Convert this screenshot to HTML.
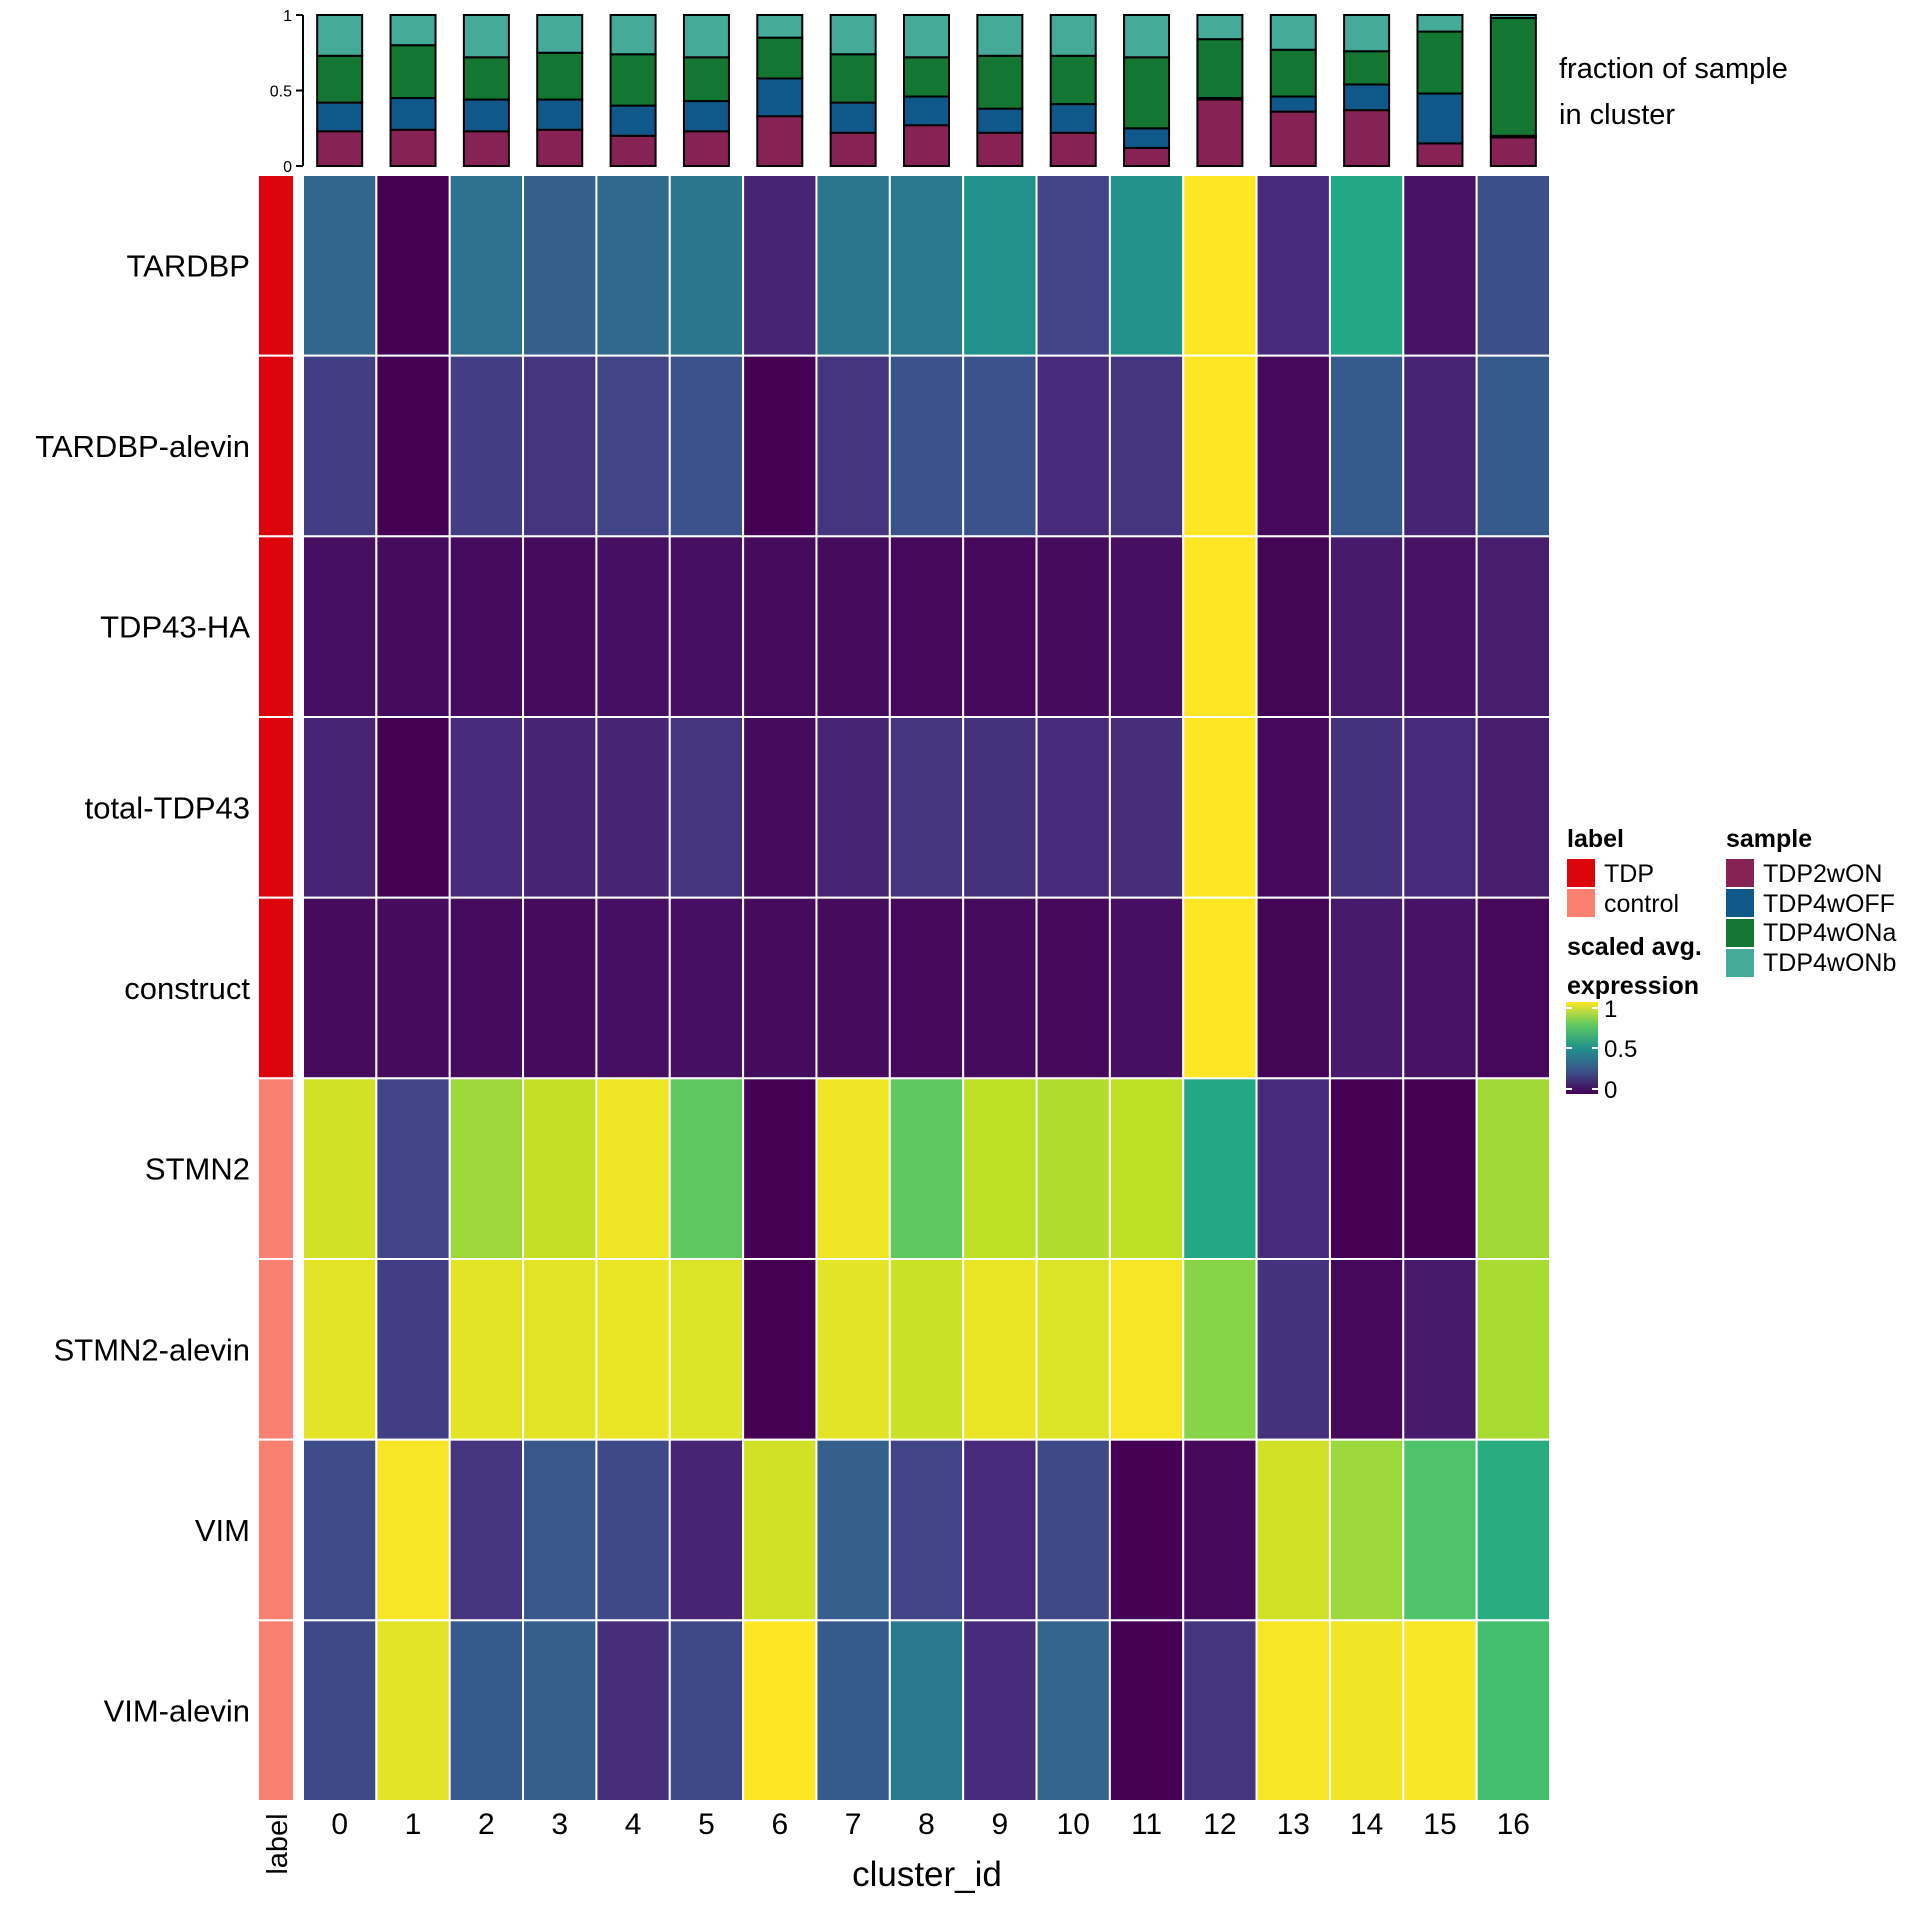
<!DOCTYPE html>
<html><head><meta charset="utf-8"><style>
html,body{margin:0;padding:0;background:#fff;}
svg{display:block;font-family:"Liberation Sans",Arial,sans-serif;}
</style></head><body>
<svg id="chart" width="1920" height="1920" viewBox="0 0 1920 1920" xmlns="http://www.w3.org/2000/svg"></svg>
<script>
const genes = ["TARDBP","TARDBP-alevin","TDP43-HA","total-TDP43","construct","STMN2","STMN2-alevin","VIM","VIM-alevin"];
const geneLabels = ["TDP","TDP","TDP","TDP","TDP","control","control","control","control"];
const clusters = ["0","1","2","3","4","5","6","7","8","9","10","11","12","13","14","15","16"];
const expr_TARDBP = [0.33,0.0,0.37,0.3,0.34,0.39,0.1,0.39,0.4,0.5,0.2,0.51,1,0.12,0.6,0.05,0.24];
const expr_TARDBP_alevin = [0.18,0.0,0.18,0.15,0.2,0.25,0.0,0.15,0.26,0.25,0.12,0.15,1,0.02,0.28,0.1,0.28];
const expr_TDP43_HA = [0.04,0.03,0.03,0.03,0.04,0.04,0.03,0.03,0.02,0.02,0.03,0.04,1,0.01,0.07,0.05,0.08];
const expr_total_TDP43 = [0.1,0.0,0.12,0.1,0.1,0.15,0.03,0.1,0.15,0.14,0.12,0.13,1,0.02,0.14,0.12,0.08];
const expr_construct = [0.03,0.03,0.03,0.03,0.04,0.04,0.03,0.03,0.02,0.03,0.02,0.04,1,0.01,0.07,0.05,0.02];
const expr_STMN2 = [0.93,0.2,0.85,0.91,0.98,0.75,0.0,0.98,0.75,0.9,0.88,0.9,0.6,0.12,0.0,0.0,0.86];
const expr_STMN2_alevin = [0.96,0.18,0.96,0.96,0.97,0.95,0.0,0.96,0.92,0.97,0.95,0.99,0.82,0.14,0.02,0.07,0.87];
const expr_VIM = [0.23,0.99,0.15,0.27,0.22,0.1,0.93,0.3,0.2,0.12,0.22,0.0,0.02,0.93,0.85,0.72,0.62];
const expr_VIM_alevin = [0.22,0.96,0.28,0.3,0.13,0.22,1,0.28,0.4,0.12,0.32,0.0,0.15,0.99,0.98,0.99,0.7];
const exprRows = [expr_TARDBP,expr_TARDBP_alevin,expr_TDP43_HA,expr_total_TDP43,expr_construct,expr_STMN2,expr_STMN2_alevin,expr_VIM,expr_VIM_alevin];
const samples = ["TDP2wON","TDP4wOFF","TDP4wONa","TDP4wONb"];
const frac_TDP2wON  = [0.23,0.24,0.23,0.24,0.20,0.23,0.33,0.22,0.27,0.22,0.22,0.12,0.44,0.36,0.37,0.15,0.19];
const frac_TDP4wOFF = [0.19,0.21,0.21,0.20,0.20,0.20,0.25,0.20,0.19,0.16,0.19,0.13,0.01,0.10,0.17,0.33,0.01];
const frac_TDP4wONa = [0.31,0.35,0.28,0.31,0.34,0.29,0.27,0.32,0.26,0.35,0.32,0.47,0.39,0.31,0.22,0.41,0.78];
const frac_TDP4wONb = [0.27,0.20,0.28,0.25,0.26,0.28,0.15,0.26,0.28,0.27,0.27,0.28,0.16,0.23,0.24,0.11,0.02];
const fracSeries = [frac_TDP2wON,frac_TDP4wOFF,frac_TDP4wONa,frac_TDP4wONb];
const fracTicks = [0,0.5,1];
const colorTicks = [0,0.5,1];

const sampleColors = ["#872254","#11588a","#137733","#46aa98"];
const labelColors = {TDP:"#dd050c",control:"#fa8072"};
const vir = ["#440154","#482475","#414487","#355f8d","#2a788e","#21918c","#22a884","#44bf70","#7ad151","#bddf26","#fde725"];
function hex(c){return [1,3,5].map(i=>parseInt(c.substr(i,2),16));}
function viridis(v){v=Math.max(0,Math.min(1,v));const p=v*10,i=Math.min(9,Math.floor(p)),f=p-i;const a=hex(vir[i]),b=hex(vir[i+1]);return "rgb("+a.map((x,k)=>Math.round(x+(b[k]-x)*f)).join(",")+")";}

const NS="http://www.w3.org/2000/svg";
const svg=document.getElementById("chart");
function el(tag,attrs,parent){const e=document.createElementNS(NS,tag);for(const k in attrs)e.setAttribute(k,attrs[k]);(parent||svg).appendChild(e);return e;}
function txt(s,attrs,parent){const e=el("text",attrs,parent);e.textContent=s;return e;}

const X0=303,X1=1550,Y0=175,Y1=1801;
const colW=(X1-X0)/clusters.length, rowH=(Y1-Y0)/genes.length;
const xPos=i=>X0+i*colW;
const yPos=j=>Y0+j*rowH;
const fy0=166,fy1=15;
const fScale=v=>fy0+(fy1-fy0)*v;

const hm=el("g",{});


exprRows.forEach((row,j)=>{row.forEach((v,i)=>{
  const r=el("rect",{x:xPos(i),y:yPos(j),width:colW,height:rowH,fill:viridis(v),stroke:"#fff","stroke-width":2},hm);
  
  
});});
genes.forEach((g,j)=>{
  const r=el("rect",{x:258,y:yPos(j),width:36,height:rowH,fill:labelColors[geneLabels[j]],stroke:"#fff","stroke-width":2});
  
  
  const t=txt(g,{x:250,y:yPos(j)+rowH/2+11,"text-anchor":"end","font-size":31,fill:"#000"});
  
  
});
clusters.forEach((c,i)=>{
  const t=txt(c,{x:xPos(i)+colW/2,y:1834,"text-anchor":"middle","font-size":30,fill:"#000"});
  
  
});
const bw=45;
clusters.forEach((c,i)=>{
  let cum=0;
  fracSeries.forEach((s,k)=>{
    const a=cum,b=cum+s[i];cum=b;
    const r=el("rect",{x:xPos(i)+colW/2-bw/2,y:fScale(b),width:bw,height:fScale(a)-fScale(b),fill:sampleColors[k],stroke:"#000","stroke-width":2});
    
    
  });
});
el("line",{x1:303,y1:fScale(0),x2:303,y2:fScale(1),stroke:"#000","stroke-width":2});
fracTicks.forEach(v=>{
  el("line",{x1:296,y1:fScale(v),x2:303,y2:fScale(v),stroke:"#000","stroke-width":2});
  const t=txt(String(v),{x:292,y:fScale(v)+6,"text-anchor":"end","font-size":16,fill:"#000"});
  
  
});
</script>
<div style="position:absolute;left:0;top:0;width:1920px;height:1920px;pointer-events:none">
<svg width="1920" height="1920" style="font-family:'Liberation Sans',Arial,sans-serif">
<text x="1559" y="78" font-size="29">fraction of sample</text>
<text x="1559" y="124" font-size="29">in cluster</text>
<text x="927" y="1886" font-size="35" text-anchor="middle">cluster_id</text>
<text x="0" y="0" font-size="29" text-anchor="middle" transform="translate(287,1844) rotate(-90)">label</text>
<g font-size="25">
<text x="1567" y="847" font-weight="bold">label</text>
<rect x="1567" y="859" width="28" height="28" fill="#dd050c"/>
<text x="1604" y="882">TDP</text>
<rect x="1567" y="889" width="28" height="28" fill="#fa8072"/>
<text x="1604" y="912">control</text>
</g>
<g font-size="25">
<text x="1567" y="955" font-weight="bold">scaled avg.</text>
<text x="1567" y="994" font-weight="bold">expression</text>
<defs><linearGradient id="vg" x1="0" y1="1" x2="0" y2="0">
<stop offset="0" stop-color="#440154"/><stop offset="0.25" stop-color="#3b528b"/><stop offset="0.5" stop-color="#21918c"/><stop offset="0.75" stop-color="#5ec962"/><stop offset="1" stop-color="#fde725"/></linearGradient></defs>
<rect x="1566" y="1002" width="32" height="92" fill="url(#vg)"/>
<g stroke="#fff" stroke-width="2"><line x1="1566" y1="1008" x2="1572" y2="1008"/><line x1="1592" y1="1008" x2="1598" y2="1008"/><line x1="1566" y1="1048" x2="1572" y2="1048"/><line x1="1592" y1="1048" x2="1598" y2="1048"/><line x1="1566" y1="1089" x2="1572" y2="1089"/><line x1="1592" y1="1089" x2="1598" y2="1089"/></g>
<text x="1604" y="1017" font-size="24">1</text>
<text x="1604" y="1057" font-size="24">0.5</text>
<text x="1604" y="1098" font-size="24">0</text>
</g>
<g font-size="25">
<text x="1726" y="847" font-weight="bold">sample</text>
<rect x="1726" y="859" width="28" height="28" fill="#872254"/><text x="1763" y="882">TDP2wON</text>
<rect x="1726" y="889" width="28" height="28" fill="#11588a"/><text x="1763" y="912">TDP4wOFF</text>
<rect x="1726" y="919" width="28" height="28" fill="#137733"/><text x="1763" y="941">TDP4wONa</text>
<rect x="1726" y="949" width="28" height="28" fill="#46aa98"/><text x="1763" y="971">TDP4wONb</text>
</g>
</svg></div>
</body></html>
